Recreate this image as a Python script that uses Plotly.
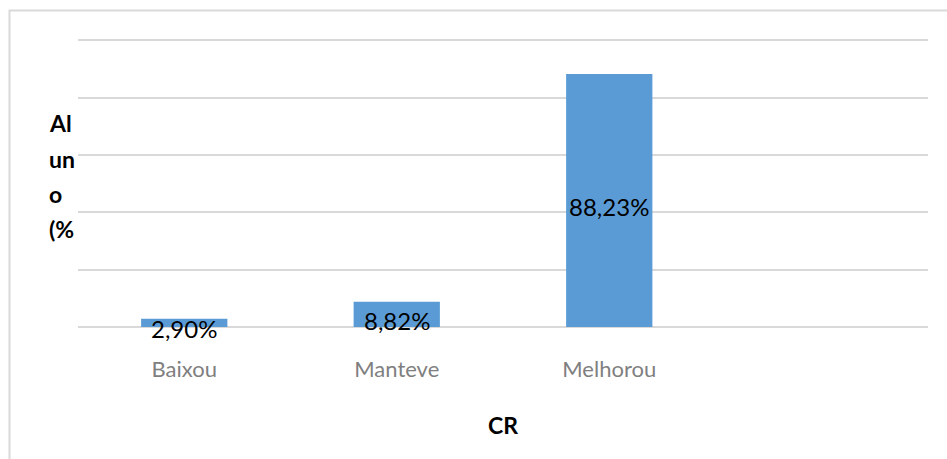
import plotly.graph_objects as go

categories = ["Baixou", "Manteve", "Melhorou"]
values = [2.90, 8.82, 88.23]
labels = ["2,90%", "8,82%", "88,23%"]
y_title_lines = ["Al", "un", "o", "(%"]
x_title = "CR"

BAR_COLOR = "#5b9bd5"
GRID = "#d9d9d9"
FONT = "Lato"

fig = go.Figure()
fig.add_trace(go.Bar(x=categories, y=values, marker=dict(color=BAR_COLOR, line=dict(width=0)),
                     hoverinfo="skip"))

for c, v, t in zip(categories, values, labels):
    fig.add_annotation(x=c, y=v / 2, xref="x", yref="y", text=t, showarrow=False,
                       yshift=-6, font=dict(family=FONT, size=24, color="#000000"))

# plot area: top pixel ~39, bottom pixel ~326.7
PH = 287.8
line_px = [123, 159, 194, 229]
for txt, py in zip(y_title_lines, line_px):
    fig.add_annotation(xref="paper", yref="paper", x=(47 - 78) / 850, xanchor="left",
                       y=(326.7 - py) / PH, yanchor="middle", text="<b>%s</b>" % txt,
                       showarrow=False, font=dict(family=FONT, size=23, color="#000000"))

fig.add_annotation(xref="paper", yref="paper", x=0.5, y=(326.7 - 425) / PH,
                   xanchor="center", yanchor="middle", text="<b>%s</b>" % x_title,
                   showarrow=False, font=dict(family=FONT, size=23, color="#000000"))

fig.add_shape(type="rect", xref="paper", yref="paper",
              x0=(9.5 - 78) / 850, x1=1.05, y0=-0.6, y1=(326.7 - 10.5) / PH,
              line=dict(color=GRID, width=2), fillcolor="rgba(0,0,0,0)", layer="below")

fig.update_layout(
    width=947, height=459,
    margin=dict(l=78, r=19, t=39, b=132),
    paper_bgcolor="white", plot_bgcolor="white",
    bargap=0.594, showlegend=False,
    font=dict(family=FONT),
)
fig.update_xaxes(range=[-0.5, 3.5], showgrid=False, showline=False, zeroline=False,
                 ticks="outside", ticklen=23, tickcolor="rgba(0,0,0,0)",
                 tickfont=dict(family=FONT, size=22, color="#7f7f7f"))
fig.update_yaxes(range=[0, 100.4], dtick=20, showgrid=True, gridcolor=GRID, gridwidth=1.5,
                 zeroline=True, zerolinecolor=GRID, zerolinewidth=1.5,
                 showticklabels=False, showline=False)

fig.write_html("out.html", config={"displayModeBar": False},
               post_script="document.body.style.margin='0px';document.body.style.overflow='hidden';")
